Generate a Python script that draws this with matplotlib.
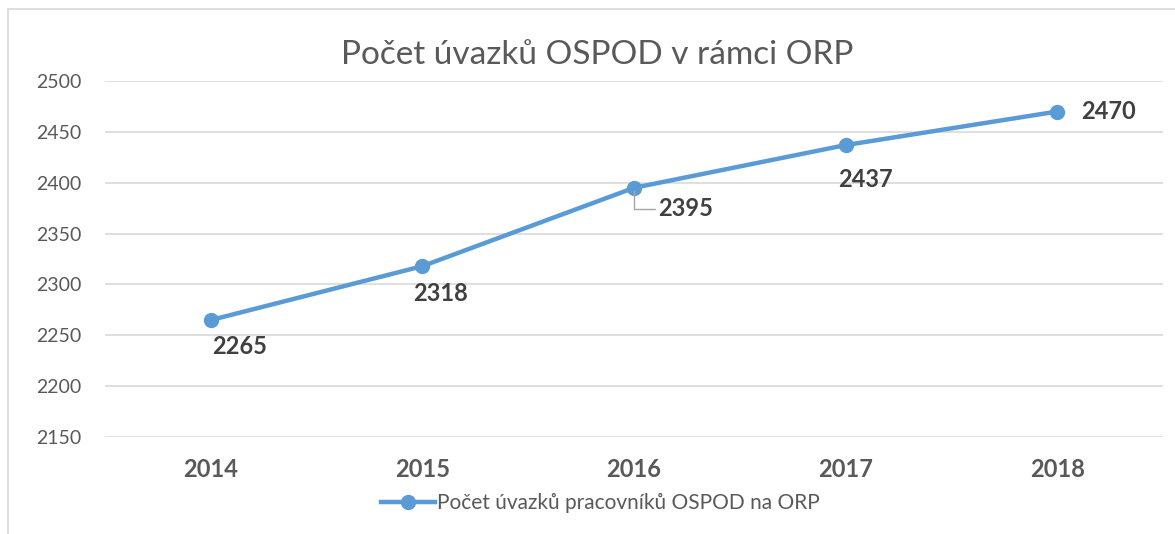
import matplotlib
matplotlib.use('Agg')
import matplotlib.pyplot as plt
from matplotlib.lines import Line2D

plt.rcParams['font.family'] = ['Lato', 'DejaVu Sans']

# data
roky = ['2014', '2015', '2016', '2017', '2018']
uvazky = [2265, 2318, 2395, 2437, 2470]
y_ticks = [2150, 2200, 2250, 2300, 2350, 2400, 2450, 2500]

modra = '#5B9BD5'

fig = plt.figure(figsize=(11.75, 5.34), dpi=100)
ax = fig.add_axes([0.0894, 0.1816, 0.9004, 0.6667])

x = list(range(len(roky)))
ax.plot(x, uvazky, color=modra, linewidth=3.2, marker='o', markersize=10,
        solid_capstyle='round', zorder=3)

ax.set_xlim(-0.5, len(roky) - 0.5)
ax.set_ylim(2150, 2500)
ax.set_yticks(y_ticks)
ax.set_xticks(x)
ax.set_xticklabels(roky, fontsize=17, fontweight='bold', color='#595959')
ax.tick_params(axis='y', labelsize=14, labelcolor='#595959', length=0, pad=17)
ax.tick_params(axis='x', length=0, pad=15)
ax.grid(axis='y', color='#D9D9D9', linewidth=1.2)
ax.set_axisbelow(True)
for s in ax.spines.values():
    s.set_visible(False)

# popisky hodnot
posuny = [(21, -19), (13, -20), (0, 0), (14, -25), (37, 0)]
for i, (xi, v) in enumerate(zip(x, uvazky)):
    if i == 2:
        ax.annotate(str(v), xy=(xi, v), xytext=(17, -15), textcoords='offset points',
                    fontsize=17, fontweight='bold', color='#404040',
                    ha='left', va='center',
                    arrowprops=dict(arrowstyle='-', color='#A6A6A6', lw=1,
                                    shrinkA=0, shrinkB=2,
                                    connectionstyle='angle,angleA=0,angleB=90,rad=0'))
    else:
        dx, dy = posuny[i]
        ax.annotate(str(v), xy=(xi, v), xytext=(dx, dy), textcoords='offset points',
                    fontsize=17, fontweight='bold', color='#404040',
                    ha='center', va='center')

fig.text(0.508, 0.897, 'Počet úvazků OSPOD v rámci ORP', fontsize=24,
         color='#595959', ha='center', va='center')

h = Line2D([], [], color=modra, linewidth=3.2, marker='o', markersize=10)
fig.legend([h], ['Počet úvazků pracovníků OSPOD na ORP'], loc='center',
           bbox_to_anchor=(0.511, 0.058), frameon=False, fontsize=15,
           handlelength=2.6, handletextpad=0.1, labelcolor='#595959')

# ramecek grafu
fig.add_artist(Line2D([8 / 1175, 8 / 1175], [0, 1 - 9 / 534], color='#D9D9D9', lw=1.2))
fig.add_artist(Line2D([8 / 1175, 1], [1 - 9 / 534, 1 - 9 / 534], color='#D9D9D9', lw=1.2))

fig.savefig('out.png', dpi=100)
